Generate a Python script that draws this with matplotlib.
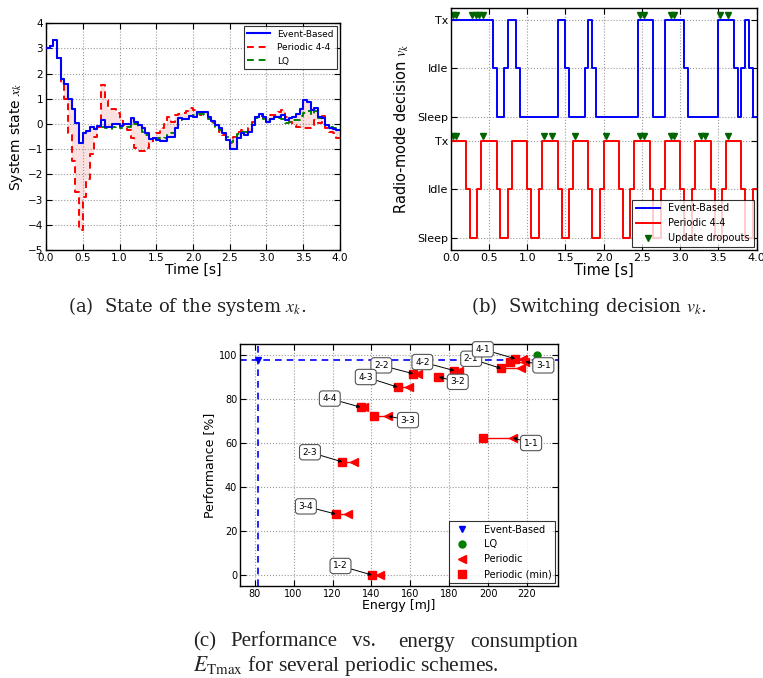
import numpy as np
import matplotlib
matplotlib.use("Agg")
import matplotlib.pyplot as plt

# ---------------- data: (a) system state, one value per 0.05 s step ----------------
dt = 0.05
state_event = [3.0, 3.1, 3.32, 2.62, 1.78, 1.58, 1.0, 0.6, 0.03, -0.74,
               -0.37, -0.28, -0.1, -0.18, -0.08, 0.14, -0.1, -0.1, 0.0, 0.0,
               -0.08, 0.0, 0.0, 0.22, 0.1, -0.03, -0.17, -0.37, -0.6, -0.55,
               -0.63, -0.67, -0.67, -0.5, -0.5, -0.17, 0.22, 0.2, 0.2, 0.3,
               0.29, 0.46, 0.46, 0.46, 0.29, 0.12, -0.04, -0.17, -0.37, -0.63,
               -0.99, -0.99, -0.57, -0.37, -0.42, -0.3, -0.04, 0.29, 0.38, 0.29,
               0.1, 0.2, 0.29, 0.29, 0.36, 0.16, 0.22, 0.29, 0.38, 0.59,
               0.95, 0.86, 0.55, 0.62, 0.29, 0.22, -0.04, -0.15, -0.2, -0.22]
state_periodic = [3.0, 3.1, 3.32, 2.62, 1.6, 1.0, -0.37, -1.45, -2.7, -4.2,
                  -2.9, -2.2, -1.2, -0.5, -0.1, 1.55, 0.95, 0.6, 0.6, 0.42,
                  0.2, -0.04, -0.24, -0.57, -0.97, -1.07, -1.07, -0.97, -0.77, -0.54,
                  -0.37, -0.17, 0.0, 0.28, 0.1, 0.36, 0.38, 0.45, 0.5, 0.62,
                  0.55, 0.49, 0.36, 0.36, 0.22, 0.09, -0.1, -0.3, -0.44, -0.63,
                  -0.77, -0.5, -0.3, -0.24, -0.3, -0.17, 0.09, 0.29, 0.36, 0.22,
                  0.29, 0.36, 0.36, 0.46, 0.56, 0.29, 0.07, -0.04, -0.1, -0.17,
                  -0.17, -0.17, -0.04, 0.16, 0.06, 0.3, -0.17, -0.3, -0.37, -0.57]
state_lq = [3.0, 3.1, 3.32, 2.62, 1.78, 1.58, 1.0, 0.6, 0.03, -0.74,
            -0.37, -0.28, -0.12, -0.2, -0.15, -0.1, -0.15, -0.2, -0.1, -0.05,
            -0.15, -0.15, -0.1, 0.05, 0.0, -0.15, -0.3, -0.45, -0.55, -0.55,
            -0.55, -0.6, -0.55, -0.4, -0.35, -0.15, 0.15, 0.2, 0.25, 0.3,
            0.35, 0.4, 0.4, 0.35, 0.2, 0.05, -0.1, -0.25, -0.4, -0.5,
            -0.7, -0.6, -0.4, -0.3, -0.3, -0.25, 0.0, 0.25, 0.3, 0.2,
            0.15, 0.2, 0.25, 0.25, 0.2, 0.05, 0.1, 0.15, 0.15, 0.3,
            0.45, 0.5, 0.35, 0.5, 0.25, 0.15, -0.05, -0.1, -0.15, -0.2]

# ---------------- data: (b) radio-mode decisions (switch times) ----------------
event_switch_t = [0.0, 0.55, 0.60, 0.70, 0.75, 0.85, 0.90, 1.40, 1.50, 1.55,
                  1.75, 1.80, 1.85, 1.90, 2.45, 2.65, 2.80, 3.05, 3.10, 3.50,
                  3.70, 3.75, 3.80, 3.85, 3.90, 3.95, 4.0]
event_modes = ["Tx", "Idle", "Sleep", "Idle", "Tx", "Idle", "Sleep", "Tx", "Idle", "Sleep",
               "Idle", "Tx", "Idle", "Sleep", "Tx", "Sleep", "Tx", "Idle", "Sleep", "Tx",
               "Idle", "Sleep", "Idle", "Tx", "Idle", "Sleep", "Sleep"]
periodic_switch_t = [0.0, 0.2, 0.25, 0.35, 0.4, 0.6, 0.65, 0.75, 0.8, 1.0,
                     1.05, 1.15, 1.2, 1.4, 1.45, 1.55, 1.6, 1.8, 1.85, 1.95,
                     2.0, 2.2, 2.25, 2.35, 2.4, 2.6, 2.65, 2.75, 2.8, 3.0,
                     3.05, 3.15, 3.2, 3.4, 3.45, 3.55, 3.6, 3.8, 3.85, 3.95, 4.0]
periodic_modes = ["Tx", "Idle", "Sleep", "Idle"] * 10 + ["Idle"]
event_dropouts = [0.025, 0.075, 0.275, 0.325, 0.375, 0.425, 2.475, 2.525,
                  2.875, 2.925, 3.525, 3.625]
periodic_dropouts = [0.025, 0.075, 0.425, 1.225, 1.325, 1.625, 2.025, 2.475,
                     2.525, 2.875, 2.925, 3.275, 3.325, 3.625]

# ---------------- data: (c) performance vs energy ----------------
schemes = ["1-1", "1-2", "2-1", "2-2", "2-3", "3-1", "3-2", "3-3", "3-4",
           "4-1", "4-2", "4-3", "4-4"]
energy_min = [197.6, 140.3, 206.7, 161.5, 125.1, 211.3, 174.0, 141.5, 121.7,
              214.0, 182.7, 153.5, 134.4]
energy_per = [212.7, 144.3, 216.9, 163.9, 130.9, 219.2, 174.7, 148.6, 128.0,
              218.2, 184.8, 159.3, 136.1]
performance = [62.3, 0.0, 93.9, 91.5, 51.4, 97.0, 90.0, 72.2, 27.7,
               98.3, 92.9, 85.4, 76.3]
lq_energy, lq_perf = 225.0, 100.0
eb_energy, eb_perf = 81.5, 97.7

plt.rcParams.update({
    "xtick.direction": "in", "ytick.direction": "in",
    "xtick.top": True, "ytick.right": True,
    "xtick.major.size": 4, "ytick.major.size": 4,
    "axes.linewidth": 1.0,
    "grid.linestyle": ":", "grid.color": "#999999", "grid.linewidth": 0.8,
    "mathtext.fontset": "stix",
})

fig = plt.figure(figsize=(7.63, 6.78), dpi=100)

# ---------------- (a) ----------------
ax1 = fig.add_axes([0.0603, 0.6313, 0.3853, 0.3344])
t = np.arange(len(state_event) + 1) * dt
eb = np.append(state_event, state_event[-1])
per = np.append(state_periodic, state_periodic[-1])
lq = np.append(state_lq, state_lq[-1])
ax1.fill_between(t, eb, per, step="post", color="#f8c8c8", alpha=0.55, linewidth=0)
ax1.step(t, eb, where="post", color="b", lw=1.5, label="Event-Based", zorder=4)
ax1.step(t, per, where="post", color="r", lw=1.4, ls=(0, (3.5, 2.5)),
         label="Periodic 4-4", zorder=3)
ax1.step(t, lq, where="post", color="g", lw=1.4, ls=(0, (3.5, 2.5)), label="LQ", zorder=3)
ax1.set_xlim(0, 4)
ax1.set_ylim(-5, 4)
ax1.set_xticks(np.arange(0, 4.01, 0.5))
ax1.set_yticks(range(-5, 5))
ax1.tick_params(labelsize=7.5, pad=2)
ax1.grid(True)
ax1.set_xlabel("Time [s]", fontsize=10, labelpad=0)
ax1.set_ylabel("System state $x_k$", fontsize=10, labelpad=2)
leg = ax1.legend(loc="upper right", fontsize=6.5, fancybox=False, edgecolor="k",
                 handlelength=2.5, borderaxespad=0.3)
leg.get_frame().set_linewidth(0.8)

# ---------------- (b) ----------------
ax2 = fig.add_axes([0.5907, 0.6313, 0.4010, 0.357])
event_level = {"Sleep": 2.5, "Idle": 3.5, "Tx": 4.5}
periodic_level = {"Sleep": 0.0, "Idle": 1.0, "Tx": 2.0}
ax2.step(event_switch_t, [event_level[m] for m in event_modes], where="post",
         color="b", lw=1.4, label="Event-Based")
ax2.step(periodic_switch_t, [periodic_level[m] for m in periodic_modes], where="post",
         color="r", lw=1.4, label="Periodic 4-4")
ax2.plot(event_dropouts, [event_level["Tx"] + 0.1] * len(event_dropouts), "v",
         color="#006400", ms=5, label="Update dropouts")
ax2.plot(periodic_dropouts, [periodic_level["Tx"] + 0.1] * len(periodic_dropouts), "v",
         color="#006400", ms=5)
ax2.set_xlim(0, 4)
ax2.set_ylim(-0.25, 4.75)
ax2.set_xticks(np.arange(0, 4.01, 0.5))
ax2.set_yticks([0, 1, 2, 2.5, 3.5, 4.5])
ax2.set_yticklabels(["Sleep", "Idle", "Tx", "Sleep", "Idle", "Tx"])
ax2.tick_params(labelsize=8, pad=2)
ax2.grid(True)
ax2.set_xlabel("Time [s]", fontsize=10.5, labelpad=0)
ax2.set_ylabel("Radio-mode decision $v_k$", fontsize=10.5, labelpad=4)
leg = ax2.legend(loc="lower right", fontsize=7, fancybox=False, edgecolor="k",
                 handlelength=2.5, borderaxespad=0.3, numpoints=1)
leg.get_frame().set_linewidth(0.8)

# ---------------- (c) ----------------
ax3 = fig.add_axes([0.3145, 0.1357, 0.4172, 0.3569])
ax3.axhline(eb_perf, color="b", ls="--", lw=1.2, dashes=(4, 3))
ax3.axvline(eb_energy, color="b", ls="--", lw=1.2, dashes=(4, 3))
for e0, e1, p in zip(energy_min, energy_per, performance):
    ax3.plot([e0, e1], [p, p], color="r", lw=1)
ax3.plot(eb_energy, eb_perf, "v", color="b", ms=5, label="Event-Based")
ax3.plot(lq_energy, lq_perf, "o", color="g", ms=5, label="LQ")
ax3.plot(energy_per, performance, "<", color="r", ms=6, ls="none", label="Periodic")
ax3.plot(energy_min, performance, "s", color="r", ms=5.5, ls="none", label="Periodic (min)")

# label box centres, (energy, performance) in axis units
label_pos = {"1-1": (222.1, 60.0), "1-2": (124.1, 4.1), "2-1": (191.3, 98.3),
             "2-2": (145.1, 95.3), "2-3": (108.4, 55.8), "3-1": (228.4, 95.3),
             "3-2": (184.4, 87.8), "3-3": (158.8, 70.4), "3-4": (106.3, 31.2),
             "4-1": (197.3, 102.6), "4-2": (166.2, 96.8), "4-3": (137.1, 90.0),
             "4-4": (118.6, 80.2)}
for name, e0, e1, p in zip(schemes, energy_min, energy_per, performance):
    lx, ly = label_pos[name]
    target = e1 if lx > e1 else e0
    ax3.annotate(name, xy=(target, p), xytext=(lx, ly), fontsize=6.5,
                 ha="center", va="center",
                 bbox=dict(boxstyle="round,pad=0.35", fc="w", ec="#555555", lw=0.8),
                 arrowprops=dict(arrowstyle="-|>", color="k", lw=0.7,
                                 mutation_scale=5, shrinkA=0, shrinkB=0))
ax3.set_xlim(72.4, 236.1)
ax3.set_ylim(-5, 105)
ax3.set_xticks(range(80, 221, 20))
ax3.set_yticks(range(0, 101, 20))
ax3.tick_params(labelsize=7, pad=2)
ax3.grid(True)
ax3.set_xlabel("Energy [mJ]", fontsize=9, labelpad=0)
ax3.set_ylabel("Performance [%]", fontsize=9, labelpad=2)
leg = ax3.legend(loc="lower right", fontsize=7, fancybox=False, edgecolor="k",
                 numpoints=1, borderaxespad=0.3, handletextpad=1.2)
leg.get_frame().set_linewidth(0.8)

# ---------------- captions ----------------
cap_ab = ["DejaVu Serif"]
cap_c = ["Liberation Serif", "DejaVu Serif"]
fig.text(68 / 763, 1 - 307 / 678, "(a)  State of the system $x_k$.", fontsize=13,
         family=cap_ab, color="#222222", va="center", ha="left")
fig.text(471 / 763, 1 - 307 / 678, "(b)  Switching decision $v_k$.", fontsize=13,
         family=cap_ab, color="#222222", va="center", ha="left")
for word, x in [("(c)", 193), ("Performance", 230), ("vs.", 352),
                ("energy", 398), ("consumption", 470)]:
    fig.text(x / 763, 1 - 642 / 678, word, fontsize=15, family=cap_c,
             color="#222222", va="center", ha="left")
fig.text(193 / 763, 1 - 666 / 678, r"$E_{\mathrm{Tmax}}$ for several periodic schemes.",
         fontsize=15.5, family=cap_c, color="#222222", va="center", ha="left")

fig.savefig("out.png", dpi=100)
